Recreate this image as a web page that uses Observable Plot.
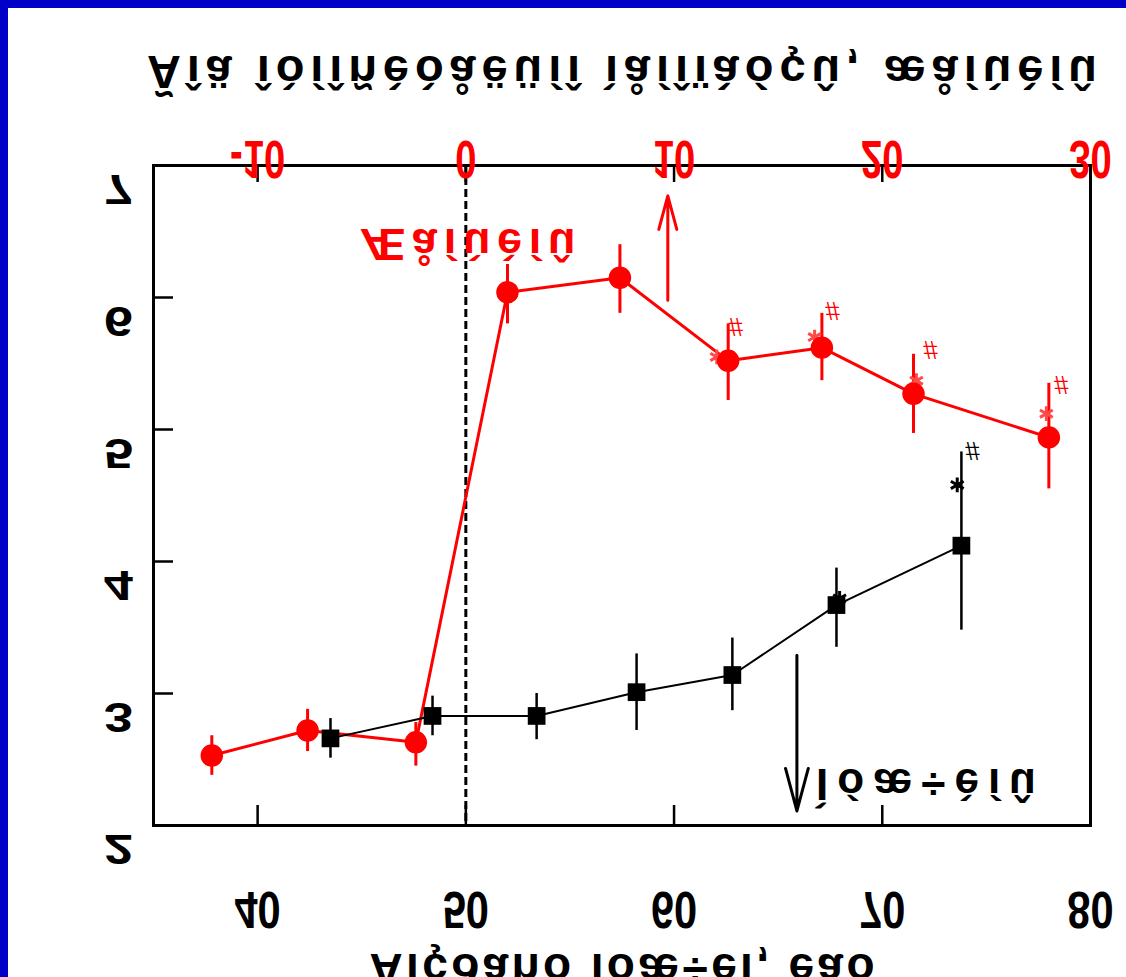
<!DOCTYPE html>
<html><head><meta charset="utf-8">
<script src="https://cdn.jsdelivr.net/npm/d3@7"></script>
<script src="https://cdn.jsdelivr.net/npm/@observablehq/plot@0.6"></script>
<style>
html,body{margin:0;padding:0;background:#0000c8;width:1126px;height:977px;overflow:hidden}
#chart{position:absolute;left:8px;top:8px;width:1118px;height:969px;background:#fff}
</style></head><body><div id="chart"></div>
<script>
// ---- texts (as shown in the picture: CP1251 Russian displayed as Latin-1, drawn upside-down) ----
const titleText = "Ãîä îòíîñèòåëüíî ìåíîïàóçû, æåíùèíû";
const xLabelText = "Âîçðàñò ìóæ÷èí, ëåò";
const womenLabel = "Æåíùèíû";
const menLabel = "Ìóæ÷èíû";

// ---- axes ----
const menopauseAge = 50;
const xTicks = [40, 50, 60, 70, 80];
const topTickLabels = ["-10", "0", "10", "20", "30"];
const yTicks = [2, 3, 4, 5, 6, 7];
const yInnerTicks = [3, 4, 5, 6];

// ---- women (red circles) ----
const womenAge = [37.8, 42.4, 47.6, 52.0, 57.4, 62.6, 67.1, 71.5, 78.0];
const womenVal = [2.53, 2.72, 2.63, 6.04, 6.15, 5.52, 5.62, 5.27, 4.94];
const womenLo  = [2.38, 2.56, 2.45, 5.80, 5.88, 5.22, 5.37, 4.97, 4.55];
const womenHi  = [2.68, 2.88, 2.78, 6.25, 6.40, 5.80, 5.88, 5.57, 5.35];
const womenStarAge = [62.05, 66.75, 71.64, 77.88];
const womenStarVal = [5.55, 5.70, 5.37, 5.12];
const womenHashAge = [62.96, 67.61, 72.31, 78.6];
const womenHashVal = [5.77, 5.89, 5.60, 5.33];

// ---- men (black squares) ----
const menAge = [43.5, 48.4, 53.4, 58.2, 62.8, 67.8, 73.8];
const menVal = [2.66, 2.83, 2.83, 3.01, 3.14, 3.67, 4.12];
const menLo  = [2.51, 2.68, 2.65, 2.72, 2.87, 3.35, 3.48];
const menHi  = [2.81, 2.98, 3.00, 3.30, 3.42, 3.95, 4.83];
const menStarAge = [67.95, 73.6];
const menStarVal = [3.72, 4.58];
const menHashAge = [74.33];
const menHashVal = [4.83];

// ---- arrows & labels ----
const womenArrow = {age: 59.7, from: 5.98, to: 6.77};
const menArrow = {age: 65.9, from: 3.29, to: 2.11};
const womenLabelPos = {age: 50.1, val: 6.39};
const menLabelPos = {age: 72.1, val: 2.30};

const RED = "#ff0000", STAR_RED = "#ff4a4a", BLACK = "#000000";

const women = womenAge.map((a, i) => ({age: a, val: womenVal[i], lo: womenLo[i], hi: womenHi[i]}));
const men = menAge.map((a, i) => ({age: a, val: menVal[i], lo: menLo[i], hi: menHi[i]}));
const wStars = womenStarAge.map((a, i) => ({age: a, val: womenStarVal[i]}));
const mStars = menStarAge.map((a, i) => ({age: a, val: menStarVal[i]}));
const wHash = womenHashAge.map((a, i) => ({age: a, val: womenHashVal[i]}));
const mHash = menHashAge.map((a, i) => ({age: a, val: menHashVal[i]}));
const topTickAges = topTickLabels.map(s => +s + menopauseAge);

const plot = Plot.plot({
  width: 1118, height: 969,
  marginLeft: 145, marginRight: 36, marginTop: 157, marginBottom: 152,
  style: {fontFamily: "'Liberation Sans', Arial, sans-serif", background: "white", overflow: "visible"},
  x: {domain: [35, 80]},
  y: {domain: [2, 7]},
  marks: [
    Plot.ruleX([menopauseAge], {stroke: BLACK, strokeWidth: 3, strokeDasharray: "8,4"}),
    Plot.axisX(xTicks, {anchor: "bottom", tickSize: -20, tickFormat: () => "", label: null, strokeWidth: 2.5}),
    Plot.axisX(topTickAges, {anchor: "top", tickSize: -16, tickFormat: () => "", label: null, strokeWidth: 2.5}),
    Plot.axisY(yInnerTicks, {anchor: "left", tickSize: -20, tickFormat: () => "", label: null, strokeWidth: 2.5}),
    Plot.frame({stroke: BLACK, strokeWidth: 3}),
    // women
    Plot.ruleX(women, {x: "age", y1: "lo", y2: "hi", stroke: RED, strokeWidth: 3}),
    Plot.line(women, {x: "age", y: "val", stroke: RED, strokeWidth: 3}),
    Plot.dot(wStars, {x: "age", y: "val", symbol: "asterisk", r: 7, stroke: STAR_RED, strokeWidth: 3}),
    Plot.dot(women, {x: "age", y: "val", r: 10.5, fill: RED, stroke: RED}),
    // men
    Plot.ruleX(men, {x: "age", y1: "lo", y2: "hi", stroke: BLACK, strokeWidth: 2.5}),
    Plot.line(men, {x: "age", y: "val", stroke: BLACK, strokeWidth: 2}),
    Plot.dot(mStars, {x: "age", y: "val", symbol: "asterisk", r: 7, stroke: BLACK, strokeWidth: 3}),
    Plot.dot(men, {x: "age", y: "val", symbol: "square", r: 10, fill: BLACK}),
    // significance marks
    Plot.text(wHash, {x: "age", y: "val", text: () => "#", fill: RED, fontSize: 26, lineAnchor: "middle"}),
    Plot.text(mHash, {x: "age", y: "val", text: () => "#", fill: BLACK, fontSize: 26, lineAnchor: "middle"}),
    // arrows
    Plot.arrow([womenArrow], {x1: "age", x2: "age", y1: "from", y2: "to", stroke: RED, strokeWidth: 3, headLength: 22, headAngle: 30}),
    Plot.arrow([menArrow], {x1: "age", x2: "age", y1: "from", y2: "to", stroke: BLACK, strokeWidth: 3, headLength: 22, headAngle: 30}),
    // series labels
    Plot.text([womenLabelPos], {x: "age", y: "val", text: () => womenLabel, fill: RED, fontSize: 45, fontWeight: "bold", lineAnchor: "middle"}),
    Plot.text([menLabelPos], {x: "age", y: "val", text: () => menLabel, fill: BLACK, fontSize: 44, fontWeight: "bold", lineAnchor: "middle"}),
    // tick labels
    Plot.text(xTicks, {x: d => d, text: d => String(d), frameAnchor: "bottom", lineAnchor: "middle", dy: 86, fontSize: 52, fontWeight: "bold", fill: BLACK}),
    Plot.text(topTickAges, {x: d => d, text: (d, i) => topTickLabels[i], frameAnchor: "top", lineAnchor: "middle", dy: -4, fontSize: 53, fontWeight: "bold", fill: RED}),
    Plot.text(yTicks, {y: d => d, text: d => String(d), frameAnchor: "left", lineAnchor: "middle", dx: -35, dy: 25, textAnchor: "middle", fontSize: 42, fontWeight: "bold", fill: BLACK}),
    // title and axis label
    Plot.text([titleText], {text: d => d, frameAnchor: "top", lineAnchor: "middle", dy: -92, fontSize: 47, fontWeight: "bold", fill: BLACK}),
    Plot.text([xLabelText], {text: d => d, frameAnchor: "bottom", lineAnchor: "middle", dy: 146, fontSize: 46, fontWeight: "bold", fill: BLACK})
  ]
});
document.getElementById("chart").append(plot);

// The reference shows every text upside-down: flip each text around its own centre.
// Texts are told apart by their font size.
const sxMap = {"52": 0.8, "53": 0.72, "42": 1.25};
const tlMap = {"47": 950, "46": 505, "45": 215, "44": 220};
plot.querySelectorAll("text").forEach(t => {
  if (!t.textContent) return;
  const g = t.closest("[font-size]");
  const fs = g ? String(+g.getAttribute("font-size")) : "";
  const sx = sxMap[fs] ?? 1;
  if (tlMap[fs]) { t.setAttribute("textLength", tlMap[fs]); t.setAttribute("lengthAdjust", "spacing"); }
  const b = t.getBBox();
  const cx = b.x + b.width / 2, cy = b.y + b.height / 2;
  const old = t.getAttribute("transform") || "";
  t.setAttribute("transform", `${old} translate(${cx},${cy}) scale(${sx},-1) translate(${-cx},${-cy})`);
});
</script></body></html>
